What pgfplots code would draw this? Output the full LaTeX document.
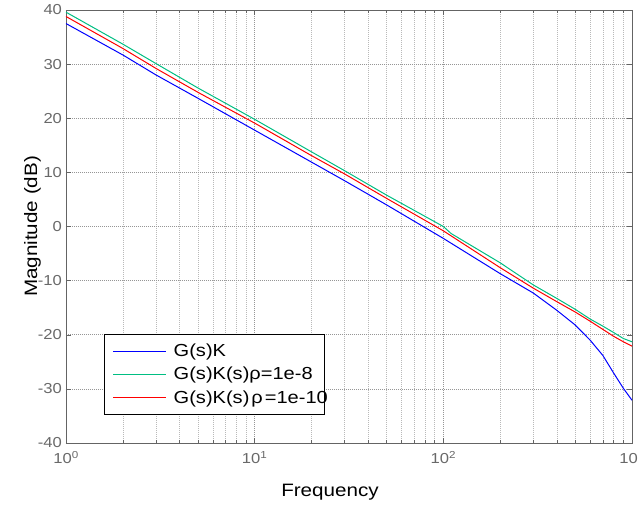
\documentclass[border=0pt]{standalone}
\usepackage{fontspec}
\setmainfont{Liberation Sans}[FakeStretch=1.15]
\usepackage{pgfplots}
\pgfplotsset{compat=1.18}
\definecolor{axgray}{RGB}{100,100,100}
\definecolor{labgray}{RGB}{105,105,105}
\definecolor{mgreen}{RGB}{0,190,130}
\definecolor{mblue}{RGB}{0,0,255}
\definecolor{mred}{RGB}{255,0,0}
\definecolor{gridmaj}{RGB}{150,150,150}
\definecolor{gridmin}{RGB}{185,185,185}
\begin{document}
\begin{tikzpicture}
\useasboundingbox (-66bp,-63bp) rectangle (572bp,443bp);
\begin{axis}[
  at={(0bp,0bp)}, anchor=south west,
  scale only axis, width=566bp, height=433bp,
  xmode=log, xmin=1, xmax=1000, ymin=-40, ymax=40,
  xtick={1,10,100,1000},
  xticklabels={10\textsuperscript{0},10\textsuperscript{1},10\textsuperscript{2},10\textsuperscript{3}},
  minor xtick={2,3,4,5,6,7,8,9,20,30,40,50,60,70,80,90,200,300,400,500,600,700,800,900},
  ytick={-40,-30,-20,-10,0,10,20,30,40},
  yticklabels={-40,-30,-20,-10,0,10,20,30,40},
  xmajorgrids=true, xminorgrids=true, ymajorgrids=true,
  major grid style={line width=0.6bp, dash pattern=on 1bp off 1bp, color=gridmaj},
  minor grid style={line width=0.5bp, dash pattern=on 1bp off 1bp, color=gridmin},
  tick align=inside, tick pos=both,
  major tick length=5bp, minor tick length=3bp,
  major tick style={color=axgray, line width=0.5bp},
  minor tick style={color=axgray, line width=0.5bp},
  axis line style={color=axgray, line width=0.8bp},
  tick label style={color=labgray, font=\fontsize{14.5}{16}\selectfont},
  yticklabel style={xshift=-0.5bp},
  xticklabel style={yshift=-5bp},
  xlabel={Frequency}, ylabel={Magnitude (dB)},
  label style={font=\fontsize{18}{21}\selectfont, color=black},
  xlabel style={at={(axis description cs:0.4664,-0.1224)}, anchor=base},
  ylabel style={at={(axis description cs:-0.0512,0.5)}, anchor=base},
  legend style={at={(axis description cs:0.0671,0.0647)}, anchor=south west,
    draw=black, fill=white, line width=0.9bp, font=\fontsize{17.5}{20}\selectfont,
    inner xsep=8bp, inner ysep=8bp, row sep=5bp, column sep=5bp},
  legend cell align=left,
]
\addlegendimage{legend image code/.code={\draw[draw=mblue, line width=1.3bp] (0bp,0bp) -- (53bp,0bp);}}
\addlegendentry{G(s)K}
\addlegendimage{legend image code/.code={\draw[draw=mgreen, line width=1.3bp] (0bp,0bp) -- (53bp,0bp);}}
\addlegendentry{G(s)K(s)ρ=1e-8}
\addlegendimage{legend image code/.code={\draw[draw=mred, line width=1.3bp] (0bp,0bp) -- (53bp,0bp);}}
\addlegendentry{\makebox[141bp][l]{G(s)K(s)\hspace{2bp}ρ\hspace{2bp}=1e-10}}
\addplot[draw=mblue, line width=1bp, forget plot] coordinates {
(1,37.5) (2,31.7) (3,28.0) (5,23.7) (10,17.8) (20,11.9) (30,8.45) (50,4.0)
(100,-2.2) (200,-8.7) (300,-12.3) (400,-15.5) (500,-18.2) (600,-21.0)
(700,-23.8) (800,-27.1) (900,-29.9) (1000,-32.1)};
\addplot[draw=mgreen, line width=1bp, forget plot] coordinates {
(1,39.6) (2,33.7) (3,30.1) (5,25.6) (10,19.8) (20,13.8) (30,10.3) (50,5.8)
(100,0.0) (110,-1.3) (200,-6.7) (300,-10.8) (400,-13.3) (500,-15.3)
(600,-17.1) (700,-18.4) (800,-19.6) (900,-20.7) (1000,-21.3)};
\addplot[draw=mred, line width=1bp, forget plot] coordinates {
(1,38.8) (2,32.9) (3,29.2) (5,24.8) (10,19.1) (20,13.1) (30,9.7) (50,5.2)
(100,-0.8) (200,-7.6) (300,-11.4) (400,-13.9) (500,-15.8) (600,-17.5)
(700,-19.0) (800,-20.3) (900,-21.3) (1000,-22.1)};
\end{axis}
\end{tikzpicture}
\end{document}
